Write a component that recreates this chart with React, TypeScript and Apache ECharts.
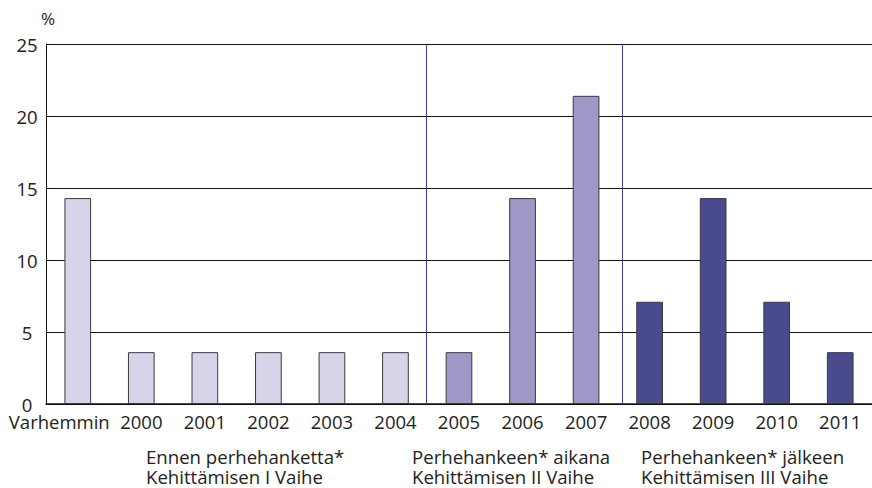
import React, { useEffect, useRef } from "react";
import * as echarts from "echarts";

const categories = ["Varhemmin", "2000", "2001", "2002", "2003", "2004", "2005", "2006", "2007", "2008", "2009", "2010", "2011"];
const values = [14.3, 3.6, 3.6, 3.6, 3.6, 3.6, 3.6, 14.3, 21.4, 7.1, 14.3, 7.1, 3.6];
const phaseOf = [0, 0, 0, 0, 0, 0, 1, 1, 1, 2, 2, 2, 2];
const phaseColors = ["#d6d4e8", "#9e99c6", "#4a4a8e"];
const phaseLine1 = ["Ennen perhehanketta*", "Perhehankeen* aikana", "Perhehankeen* jälkeen"];
const phaseLine2 = ["Kehittämisen I Vaihe", "Kehittämisen II Vaihe", "Kehittämisen III Vaihe"];
const phaseTextLeft = [146, 412, 641];
const dividers = [5.477, 8.57];
const yTicks = { min: 0, max: 25, interval: 5 };

const FONT = "'Open Sans', 'Noto Sans', sans-serif";

export default function App() {
  const ref = useRef<HTMLDivElement>(null);
  useEffect(() => {
    if (!ref.current) return;
    const chart = echarts.init(ref.current, undefined, { renderer: "svg" });
    const graphic: any[] = [];
    phaseLine1.forEach((t, i) => {
      graphic.push({ type: "text", x: phaseTextLeft[i], y: 456, style: { text: t, fill: "#222", font: `18.6px ${FONT}`, lineHeight: 20, verticalAlign: "middle" } });
      graphic.push({ type: "text", x: phaseTextLeft[i], y: 476, style: { text: phaseLine2[i], fill: "#222", font: `18.6px ${FONT}`, lineHeight: 20, verticalAlign: "middle" } });
    });
    chart.setOption({
      animation: false,
      backgroundColor: "#ffffff",
      grid: { left: 46, top: 44, width: 832, bottom: 84, containLabel: false },
      xAxis: [
        {
          type: "category",
          data: categories.map((c, i) =>
            i === 0 ? { value: c, textStyle: { padding: [0, 37, 0, 0] } } : c
          ),
          axisLine: { show: true, lineStyle: { color: "#111", width: 1.5 } },
          axisTick: { show: false },
          axisLabel: { color: "#222", fontSize: 18.5, fontFamily: FONT, margin: 8, interval: 0 },
        },
        {
          type: "value",
          min: -0.5,
          max: categories.length - 0.5,
          show: false,
          position: "bottom",
        },
      ],
      yAxis: {
        type: "value",
        min: yTicks.min,
        max: yTicks.max,
        interval: yTicks.interval,
        name: "%",
        nameLocation: "end",
        nameGap: 17,
        nameTextStyle: { color: "#222", fontSize: 17, fontFamily: FONT, align: "center", padding: [0, 0, 0, 4] },
        axisLine: { show: true, onZero: false, lineStyle: { color: "#111", width: 1 } },
        axisTick: { show: false },
        axisLabel: { color: "#222", fontSize: 18.5, lineHeight: 14, fontFamily: FONT, margin: 19, align: "center" },
        splitLine: { show: true, lineStyle: { color: "#111", width: 1 } },
      },
      series: [
        {
          type: "bar",
          xAxisIndex: 0,
          barWidth: "42%",
          data: values.map((v, i) => ({
            value: v,
            itemStyle: { color: phaseColors[phaseOf[i]], borderColor: "#3a3a3a", borderWidth: 1 },
          })),
        },
        {
          type: "line",
          xAxisIndex: 1,
          data: [],
          silent: true,
          markLine: {
            silent: true,
            symbol: "none",
            label: { show: false },
            lineStyle: { color: "#4040a0", width: 1, type: "solid" },
            data: dividers.map((d) => ({ xAxis: d })),
          },
        },
      ],
      graphic,
    });
    return () => chart.dispose();
  }, []);
  return <div ref={ref} style={{ position: "fixed", left: 0, top: 0, width: 872, height: 488 }} />;
}
